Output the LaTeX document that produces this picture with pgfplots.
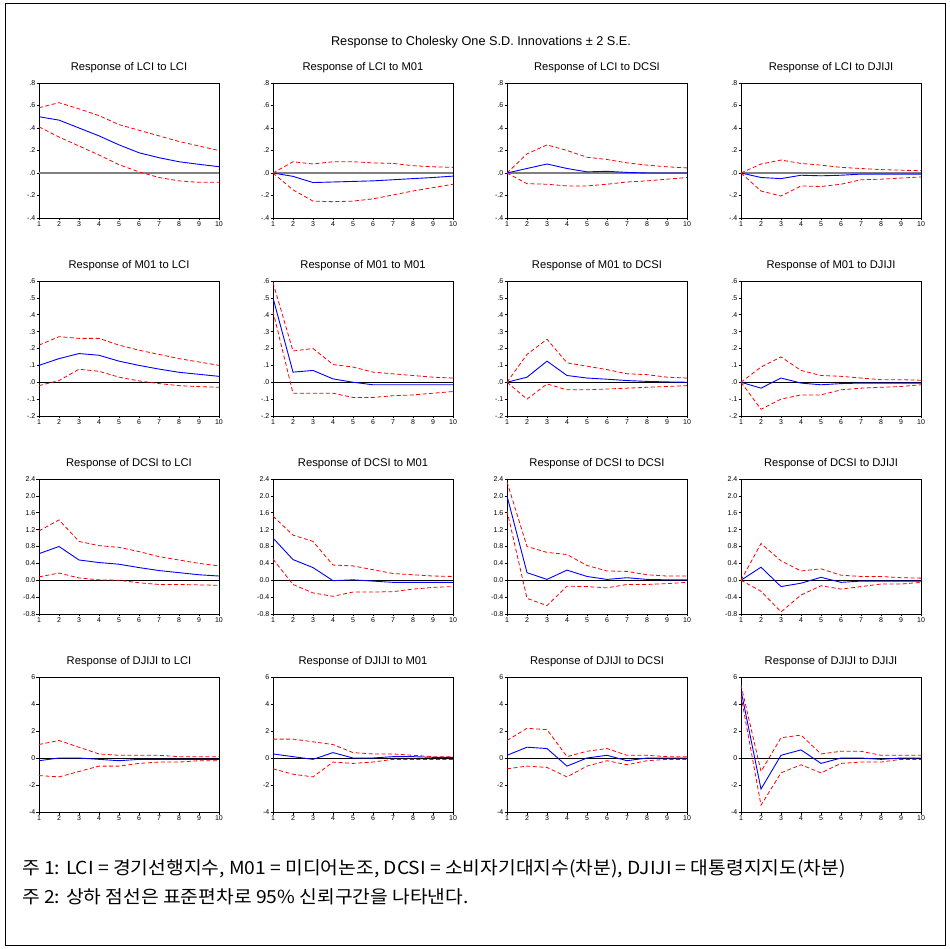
\documentclass[border=0pt]{standalone}
\usepackage{pgfplots}
\pgfplotsset{compat=1.18}
\usepackage{fontspec}
\setmainfont{Liberation Sans}
\newfontfamily\kr[FakeStretch=1.07]{Noto Sans CJK KR}
\pgfplotsset{
  irf/.style={scale only axis, width=180pt, height=135pt, anchor=south west,
    xmin=1, xmax=10, xtick={1,2,3,4,5,6,7,8,9,10},
    axis line style={line width=0.8pt}, tick style={black, line width=0.5pt},
    tick align=outside, xtick pos=bottom, ytick pos=left, major tick length=2.5pt,
    /pgf/number format/assume math mode=true,
    ticklabel style={font=\fontsize{7}{7}\selectfont, inner sep=1pt},
    every axis title/.style={at={(0.5,1)}, anchor=south, yshift=6.5pt, font=\fontsize{11.2}{12}\selectfont},
    blueline/.style={blue, line width=0.9pt},
    redline/.style={red, line width=0.8pt, dash pattern=on 4pt off 2.5pt},
  },
  r1/.style={ymin=-0.4, ymax=0.8, ytick={-0.4,-0.2,0,0.2,0.4,0.6,0.8}, yticklabels={-.4,-.2,.0,.2,.4,.6,.8},
    zl/.style={gray, line width=1.6pt}},
  r2/.style={ymin=-0.2, ymax=0.6, ytick={-0.2,-0.1,0,0.1,0.2,0.3,0.4,0.5,0.6}, yticklabels={-.2,-.1,.0,.1,.2,.3,.4,.5,.6},
    zl/.style={black, line width=0.6pt}},
  r3/.style={ymin=-0.8, ymax=2.4, ytick={-0.8,-0.4,0,0.4,0.8,1.2,1.6,2.0,2.4}, yticklabels={-0.8,-0.4,0.0,0.4,0.8,1.2,1.6,2.0,2.4},
    zl/.style={black, line width=0.6pt}},
  r4/.style={ymin=-4, ymax=6, ytick={-4,-2,0,2,4,6}, yticklabels={-4,-2,0,2,4,6},
    zl/.style={black, line width=0.6pt}},
}
\newcommand{\irf}[7]{%
\begin{axis}[irf,#1,at={(#2pt,948pt-#3pt)},title={#4}]
\addplot[zl] coordinates {(1,0)(10,0)};
\addplot[blueline] coordinates {#5};
\addplot[redline] coordinates {#6};
\addplot[redline] coordinates {#7};
\end{axis}}
\begin{document}
\begin{tikzpicture}[x=1pt,y=1pt]
\useasboundingbox (0,0) rectangle (950,948);
\draw[line width=0.8pt] (5,3) rectangle (945,945);
\node[font=\fontsize{12.7}{14}\selectfont] at (481,906) {Response to Cholesky One S.D. Innovations ± 2 S.E.};
% Row 1
\irf{r1}{39}{218}{Response of LCI to LCI}
{(1,0.50)(2,0.47)(3,0.40)(4,0.33)(5,0.25)(6,0.18)(7,0.136)(8,0.10)(9,0.077)(10,0.056)}
{(1,0.58)(2,0.625)(3,0.57)(4,0.51)(5,0.43)(6,0.38)(7,0.33)(8,0.28)(9,0.24)(10,0.20)}
{(1,0.41)(2,0.32)(3,0.24)(4,0.16)(5,0.074)(6,0.01)(7,-0.04)(8,-0.07)(9,-0.083)(10,-0.083)}
\irf{r1}{273}{218}{Response of LCI to M01}
{(1,0)(2,-0.03)(3,-0.085)(4,-0.08)(5,-0.075)(6,-0.07)(7,-0.06)(8,-0.05)(9,-0.04)(10,-0.028)}
{(1,0)(2,0.10)(3,0.08)(4,0.10)(5,0.10)(6,0.09)(7,0.085)(8,0.065)(9,0.055)(10,0.05)}
{(1,0)(2,-0.15)(3,-0.25)(4,-0.255)(5,-0.25)(6,-0.23)(7,-0.195)(8,-0.16)(9,-0.13)(10,-0.10)}
\irf{r1}{507}{218}{Response of LCI to DCSI}
{(1,0)(2,0.04)(3,0.08)(4,0.04)(5,0.01)(6,0.015)(7,0.005)(8,0)(9,0)(10,0)}
{(1,0)(2,0.17)(3,0.25)(4,0.20)(5,0.14)(6,0.12)(7,0.09)(8,0.07)(9,0.055)(10,0.045)}
{(1,0)(2,-0.095)(3,-0.10)(4,-0.115)(5,-0.115)(6,-0.10)(7,-0.08)(8,-0.07)(9,-0.055)(10,-0.04)}
\irf{r1}{741}{218}{Response of LCI to DJIJI}
{(1,0)(2,-0.04)(3,-0.05)(4,-0.02)(5,-0.025)(6,-0.02)(7,-0.01)(8,-0.01)(9,-0.01)(10,-0.01)}
{(1,0)(2,0.08)(3,0.115)(4,0.085)(5,0.07)(6,0.05)(7,0.04)(8,0.03)(9,0.025)(10,0.02)}
{(1,0)(2,-0.16)(3,-0.205)(4,-0.115)(5,-0.12)(6,-0.10)(7,-0.06)(8,-0.055)(9,-0.045)(10,-0.035)}
% Row 2
\irf{r2}{39}{416}{Response of M01 to LCI}
{(1,0.10)(2,0.14)(3,0.17)(4,0.16)(5,0.125)(6,0.10)(7,0.078)(8,0.059)(9,0.047)(10,0.035)}
{(1,0.22)(2,0.27)(3,0.26)(4,0.26)(5,0.22)(6,0.19)(7,0.165)(8,0.14)(9,0.12)(10,0.10)}
{(1,-0.02)(2,0.01)(3,0.077)(4,0.065)(5,0.03)(6,0.008)(7,-0.008)(8,-0.02)(9,-0.026)(10,-0.03)}
\irf{r2}{273}{416}{Response of M01 to M01}
{(1,0.50)(2,0.06)(3,0.07)(4,0.02)(5,0.0)(6,-0.015)(7,-0.015)(8,-0.015)(9,-0.015)(10,-0.015)}
{(1,0.59)(2,0.185)(3,0.20)(4,0.105)(5,0.09)(6,0.06)(7,0.05)(8,0.04)(9,0.03)(10,0.025)}
{(1,0.42)(2,-0.065)(3,-0.065)(4,-0.065)(5,-0.09)(6,-0.09)(7,-0.08)(8,-0.075)(9,-0.065)(10,-0.055)}
\irf{r2}{507}{416}{Response of M01 to DCSI}
{(1,0)(2,0.03)(3,0.125)(4,0.04)(5,0.025)(6,0.018)(7,0.01)(8,0.005)(9,0.002)(10,0)}
{(1,0)(2,0.165)(3,0.255)(4,0.115)(5,0.095)(6,0.075)(7,0.05)(8,0.045)(9,0.03)(10,0.025)}
{(1,0)(2,-0.10)(3,-0.01)(4,-0.045)(5,-0.045)(6,-0.04)(7,-0.035)(8,-0.03)(9,-0.025)(10,-0.02)}
\irf{r2}{741}{416}{Response of M01 to DJIJI}
{(1,0)(2,-0.035)(3,0.025)(4,-0.005)(5,-0.015)(6,-0.008)(7,-0.005)(8,-0.005)(9,-0.005)(10,-0.005)}
{(1,0)(2,0.09)(3,0.15)(4,0.07)(5,0.04)(6,0.035)(7,0.025)(8,0.015)(9,0.015)(10,0.012)}
{(1,0)(2,-0.16)(3,-0.10)(4,-0.075)(5,-0.075)(6,-0.045)(7,-0.035)(8,-0.03)(9,-0.025)(10,-0.015)}
% Row 3
\irf{r3}{39}{614}{Response of DCSI to LCI}
{(1,0.63)(2,0.80)(3,0.48)(4,0.42)(5,0.38)(6,0.30)(7,0.23)(8,0.18)(9,0.13)(10,0.10)}
{(1,1.17)(2,1.43)(3,0.92)(4,0.82)(5,0.78)(6,0.68)(7,0.56)(8,0.48)(9,0.40)(10,0.34)}
{(1,0.08)(2,0.17)(3,0.055)(4,0.01)(5,0.0)(6,-0.06)(7,-0.10)(8,-0.10)(9,-0.11)(10,-0.12)}
\irf{r3}{273}{614}{Response of DCSI to M01}
{(1,1.0)(2,0.49)(3,0.30)(4,-0.01)(5,0.01)(6,-0.02)(7,-0.05)(8,-0.05)(9,-0.05)(10,-0.05)}
{(1,1.52)(2,1.07)(3,0.92)(4,0.36)(5,0.34)(6,0.25)(7,0.16)(8,0.13)(9,0.10)(10,0.09)}
{(1,0.50)(2,-0.10)(3,-0.30)(4,-0.38)(5,-0.28)(6,-0.28)(7,-0.27)(8,-0.21)(9,-0.17)(10,-0.15)}
\irf{r3}{507}{614}{Response of DCSI to DCSI}
{(1,2.0)(2,0.18)(3,0.02)(4,0.24)(5,0.09)(6,0.02)(7,0.06)(8,0.02)(9,0.01)(10,0.01)}
{(1,2.33)(2,0.80)(3,0.66)(4,0.61)(5,0.35)(6,0.22)(7,0.21)(8,0.13)(9,0.10)(10,0.10)}
{(1,1.65)(2,-0.43)(3,-0.60)(4,-0.14)(5,-0.15)(6,-0.18)(7,-0.10)(8,-0.10)(9,-0.08)(10,-0.05)}
\irf{r3}{741}{614}{Response of DCSI to DJIJI}
{(1,0)(2,0.31)(3,-0.15)(4,-0.07)(5,0.07)(6,-0.05)(7,-0.02)(8,-0.02)(9,-0.02)(10,-0.02)}
{(1,0)(2,0.87)(3,0.46)(4,0.22)(5,0.27)(6,0.12)(7,0.09)(8,0.09)(9,0.06)(10,0.05)}
{(1,0)(2,-0.26)(3,-0.75)(4,-0.35)(5,-0.13)(6,-0.21)(7,-0.15)(8,-0.09)(9,-0.09)(10,-0.05)}
% Row 4
\irf{r4}{39}{812}{Response of DJIJI to LCI}
{(1,-0.2)(2,0)(3,0)(4,-0.1)(5,-0.2)(6,-0.1)(7,-0.1)(8,-0.1)(9,-0.1)(10,-0.1)}
{(1,1.0)(2,1.3)(3,0.8)(4,0.3)(5,0.2)(6,0.2)(7,0.2)(8,0.1)(9,0.1)(10,0.1)}
{(1,-1.3)(2,-1.4)(3,-1.0)(4,-0.6)(5,-0.6)(6,-0.4)(7,-0.3)(8,-0.3)(9,-0.2)(10,-0.2)}
\irf{r4}{273}{812}{Response of DJIJI to M01}
{(1,0.3)(2,0.1)(3,-0.1)(4,0.4)(5,0)(6,0)(7,0.1)(8,0.1)(9,0.05)(10,0.05)}
{(1,1.4)(2,1.4)(3,1.2)(4,1.0)(5,0.4)(6,0.3)(7,0.3)(8,0.2)(9,0.1)(10,0.1)}
{(1,-0.8)(2,-1.2)(3,-1.4)(4,-0.3)(5,-0.4)(6,-0.3)(7,-0.1)(8,-0.1)(9,-0.1)(10,-0.1)}
\irf{r4}{507}{812}{Response of DJIJI to DCSI}
{(1,0.2)(2,0.8)(3,0.7)(4,-0.6)(5,0)(6,0.2)(7,-0.2)(8,0)(9,0)(10,0)}
{(1,1.3)(2,2.2)(3,2.1)(4,0.1)(5,0.5)(6,0.7)(7,0.2)(8,0.2)(9,0.1)(10,0.1)}
{(1,-0.8)(2,-0.6)(3,-0.7)(4,-1.4)(5,-0.6)(6,-0.2)(7,-0.5)(8,-0.2)(9,-0.1)(10,-0.1)}
\irf{r4}{741}{812}{Response of DJIJI to DJIJI}
{(1,5.0)(2,-2.3)(3,0.2)(4,0.6)(5,-0.4)(6,0)(7,0)(8,-0.1)(9,0)(10,0)}
{(1,5.4)(2,-1.0)(3,1.5)(4,1.7)(5,0.3)(6,0.5)(7,0.5)(8,0.2)(9,0.2)(10,0.2)}
{(1,4.6)(2,-3.5)(3,-1.1)(4,-0.5)(5,-1.1)(6,-0.4)(7,-0.3)(8,-0.3)(9,-0.1)(10,-0.1)}
% Notes
\node[anchor=base west, inner sep=0pt, font=\kr\fontsize{18}{20}\selectfont] at (22,74) {주 1: LCI = 경기선행지수, M01 = 미디어논조, DCSI = 소비자기대지수(차분), DJIJI = 대통령지지도(차분)};
\node[anchor=base west, inner sep=0pt, font=\kr\fontsize{18}{20}\selectfont] at (22,45) {주 2: 상하 점선은 표준편차로 95\% 신뢰구간을 나타낸다.};
\end{tikzpicture}
\end{document}
